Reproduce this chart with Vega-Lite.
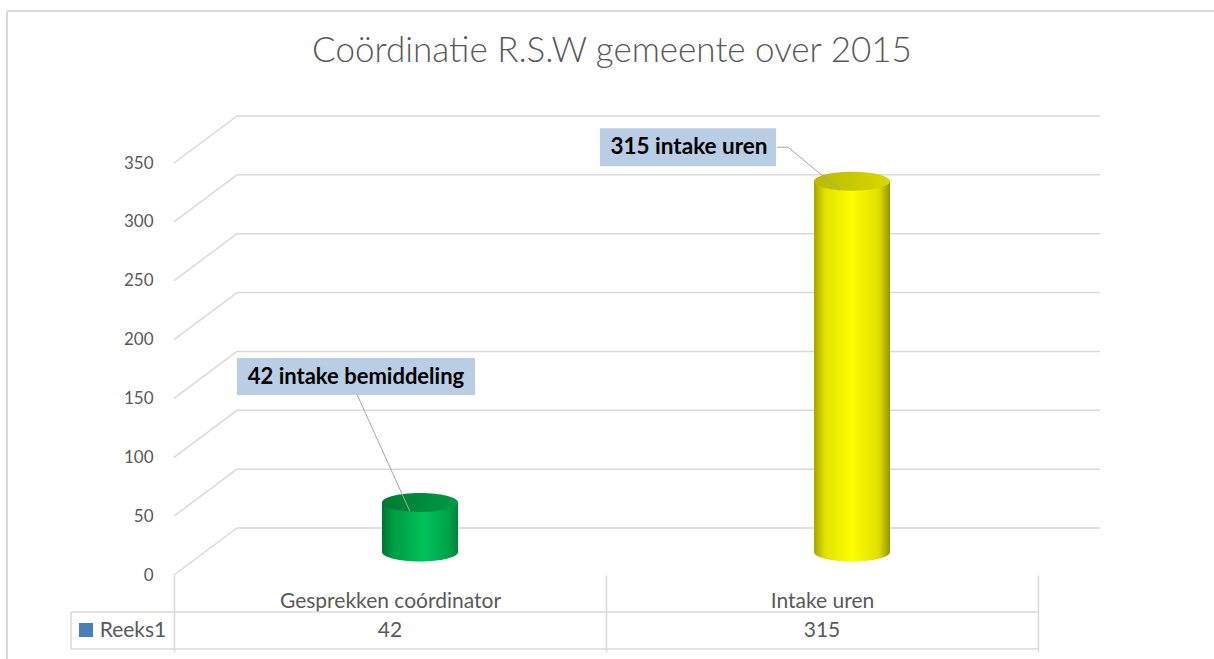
{
  "$schema": "https://vega.github.io/schema/vega-lite/v6.json",
  "autosize": {"type": "none"},
  "width": 864,
  "height": 412,
  "padding": {"left": 174, "top": 116, "right": 176, "bottom": 131},
  "background": "white",
  "title": {
    "text": "Coördinatie R.S.W gemeente over 2015",
    "font": "Lato",
    "fontSize": 35,
    "fontWeight": 300,
    "color": "#595959",
    "anchor": "middle",
    "frame": "group",
    "dx": 6,
    "baseline": "alphabetic",
    "offset": -87
  },
  "config": {"view": {"stroke": null}, "font": "Lato"},
  "datasets": {
    "ticks": [{"v": 0}, {"v": 50}, {"v": 100}, {"v": 150}, {"v": 200}, {"v": 250}, {"v": 300}, {"v": 350}],
    "main": [
      {"cat": "Gesprekken coórdinator", "value": 42, "label": "42 intake bemiddeling", "series": "Reeks1"},
      {"cat": "Intake uren", "value": 315, "label": "315 intake uren", "series": "Reeks1"}
    ]
  },
  "data": {"name": "main"},
  "layer": [
    {
      "data": {"values": [{}]},
      "mark": {"type": "rule", "color": "#d9d9d9", "strokeWidth": 2, "xOffset": -167, "x2Offset": 176, "yOffset": -105},
      "encoding": {"x": {"value": 0}, "x2": {"value": "width"}, "y": {"value": 0}}
    },
    {
      "data": {"values": [{}]},
      "mark": {"type": "rule", "color": "#d9d9d9", "strokeWidth": 2, "xOffset": -167, "yOffset": -105, "y2Offset": 131},
      "encoding": {"x": {"value": 0}, "y": {"value": 0}, "y2": {"value": "height"}}
    },
    {
      "data": {"name": "ticks"},
      "mark": {"type": "rule", "color": "#d9d9d9", "strokeWidth": 1.5, "xOffset": 63, "x2Offset": 62},
      "encoding": {
        "x": {"value": 0},
        "x2": {"value": "width"},
        "y": {"field": "v", "type": "quantitative", "scale": {"domain": [0, 350], "nice": false}}
      }
    },
    {
      "data": {"name": "ticks"},
      "mark": {"type": "rule", "color": "#d9d9d9", "strokeWidth": 1.5, "yOffset": 47, "x2Offset": 63},
      "encoding": {
        "x": {"value": 0},
        "x2": {"value": 0},
        "y": {"field": "v", "type": "quantitative"},
        "y2": {"field": "v"}
      }
    },
    {
      "data": {"values": [{}]},
      "mark": {"type": "rule", "color": "#d9d9d9", "strokeWidth": 1.5, "xOffset": -103, "yOffset": 84},
      "encoding": {"x": {"value": 0}, "x2": {"value": "width"}, "y": {"datum": 0, "type": "quantitative"}}
    },
    {
      "data": {"values": [{}]},
      "mark": {"type": "rule", "color": "#d9d9d9", "strokeWidth": 1.5, "xOffset": -103, "yOffset": 121},
      "encoding": {"x": {"value": 0}, "x2": {"value": "width"}, "y": {"datum": 0, "type": "quantitative"}}
    },
    {
      "data": {"values": [{}]},
      "mark": {"type": "rule", "color": "#d9d9d9", "strokeWidth": 1.5, "xOffset": -103, "yOffset": 84, "y2Offset": 121},
      "encoding": {"x": {"value": 0}, "y": {"datum": 0, "type": "quantitative"}, "y2": {"datum": 0}}
    },
    {
      "mark": {
        "type": "point",
        "shape": "M -1 0 C -1 -0.138 -0.552 -0.25 0 -0.25 C 0.552 -0.25 1 -0.138 1 0 C 1 0.138 0.552 0.25 0 0.25 C -0.552 0.25 -1 0.138 -1 0 Z",
        "size": 5776,
        "filled": true,
        "opacity": 1,
        "strokeWidth": 0,
        "xOffset": 30,
        "yOffset": 24
      },
      "encoding": {
        "x": {"field": "cat", "type": "nominal", "sort": null},
        "y": {"datum": 0, "type": "quantitative"},
        "fill": {
          "condition": {
            "test": "datum.cat === 'Intake uren'",
            "value": {"gradient": "linear", "x1": 0, "x2": 1, "y1": 0, "y2": 0, "stops": [
              {"offset": 0, "color": "#a5a500"}, {"offset": 0.15, "color": "#e2e200"}, {"offset": 0.5, "color": "#ffff00"}, {"offset": 0.85, "color": "#e0e000"}, {"offset": 1, "color": "#959500"}]}
          },
          "value": {"gradient": "linear", "x1": 0, "x2": 1, "y1": 0, "y2": 0, "stops": [
            {"offset": 0, "color": "#007530"}, {"offset": 0.15, "color": "#009e45"}, {"offset": 0.55, "color": "#00c25b"}, {"offset": 0.85, "color": "#00a64b"}, {"offset": 1, "color": "#00843a"}]}
        }
      }
    },
    {
      "mark": {"type": "bar", "width": 76, "xOffset": 30, "yOffset": 24, "y2Offset": 24, "strokeWidth": 0},
      "encoding": {
        "x": {
          "field": "cat", "type": "nominal", "sort": null,
          "scale": {"paddingInner": 0, "paddingOuter": 0},
          "axis": {
            "title": null, "orient": "bottom", "offset": 47, "domain": false, "grid": false,
            "ticks": true, "tickBand": "extent", "tickSize": 77, "tickColor": "#d9d9d9", "tickWidth": 1.5,
            "labelPadding": -51, "labelAngle": 0, "labelAlign": "center", "labelLimit": 420, "labelFont": "Lato", "labelFontSize": 21, "labelColor": "#595959"
          }
        },
        "y": {
          "field": "value", "type": "quantitative",
          "scale": {"domain": [0, 350], "nice": false},
          "axis": {
            "title": null, "domain": false, "ticks": false, "grid": false,
            "values": [0, 50, 100, 150, 200, 250, 300, 350],
            "labelOffset": 47, "labelPadding": 21, "labelFont": "Lato", "labelFontSize": 17, "labelColor": "#595959"
          }
        },
        "y2": {"datum": 0},
        "fill": {
          "condition": {
            "test": "datum.cat === 'Intake uren'",
            "value": {"gradient": "linear", "x1": 0, "x2": 1, "y1": 0, "y2": 0, "stops": [
              {"offset": 0, "color": "#a5a500"}, {"offset": 0.15, "color": "#e2e200"}, {"offset": 0.5, "color": "#ffff00"}, {"offset": 0.85, "color": "#e0e000"}, {"offset": 1, "color": "#959500"}]}
          },
          "value": {"gradient": "linear", "x1": 0, "x2": 1, "y1": 0, "y2": 0, "stops": [
            {"offset": 0, "color": "#007530"}, {"offset": 0.15, "color": "#009e45"}, {"offset": 0.55, "color": "#00c25b"}, {"offset": 0.85, "color": "#00a64b"}, {"offset": 1, "color": "#00843a"}]}
        }
      }
    },
    {
      "mark": {
        "type": "point",
        "shape": "M -1 0 C -1 -0.138 -0.552 -0.25 0 -0.25 C 0.552 -0.25 1 -0.138 1 0 C 1 0.138 0.552 0.25 0 0.25 C -0.552 0.25 -1 0.138 -1 0 Z",
        "size": 5776,
        "filled": true,
        "opacity": 1,
        "strokeWidth": 0,
        "xOffset": 30,
        "yOffset": 24
      },
      "encoding": {
        "x": {"field": "cat", "type": "nominal", "sort": null},
        "y": {"field": "value", "type": "quantitative"},
        "fill": {
          "condition": {
            "test": "datum.cat === 'Intake uren'",
            "value": {"gradient": "linear", "x1": 0, "x2": 1, "y1": 0, "y2": 0, "stops": [
              {"offset": 0, "color": "#b8b800"}, {"offset": 0.6, "color": "#cccc00"}, {"offset": 1, "color": "#d8d800"}]}
          },
          "value": {"gradient": "linear", "x1": 0, "x2": 1, "y1": 0, "y2": 0, "stops": [
            {"offset": 0, "color": "#007a33"}, {"offset": 0.6, "color": "#008d3d"}, {"offset": 1, "color": "#009a44"}]}
        }
      }
    },
    {
      "transform": [{"filter": "datum.cat === 'Gesprekken coórdinator'"}],
      "mark": {"type": "rule", "color": "#a6a6a6", "strokeWidth": 1, "xOffset": -33, "yOffset": -84, "x2Offset": 20, "y2Offset": 33},
      "encoding": {
        "x": {"field": "cat", "type": "nominal", "sort": null},
        "x2": {"field": "cat"},
        "y": {"field": "value", "type": "quantitative"},
        "y2": {"field": "value"}
      }
    },
    {
      "transform": [{"filter": "datum.cat === 'Intake uren'"}],
      "mark": {"type": "rule", "color": "#a6a6a6", "strokeWidth": 1, "xOffset": -45, "yOffset": -10, "x2Offset": -34, "y2Offset": -10},
      "encoding": {
        "x": {"field": "cat", "type": "nominal", "sort": null},
        "x2": {"field": "cat"},
        "y": {"field": "value", "type": "quantitative"},
        "y2": {"field": "value"}
      }
    },
    {
      "transform": [{"filter": "datum.cat === 'Intake uren'"}],
      "mark": {"type": "rule", "color": "#a6a6a6", "strokeWidth": 1, "xOffset": -34, "yOffset": -10, "x2Offset": 18, "y2Offset": 33},
      "encoding": {
        "x": {"field": "cat", "type": "nominal", "sort": null},
        "x2": {"field": "cat"},
        "y": {"field": "value", "type": "quantitative"},
        "y2": {"field": "value"}
      }
    },
    {
      "transform": [{"filter": "datum.cat === 'Gesprekken coórdinator'"}],
      "mark": {"type": "point", "shape": "M -1 -0.1555 L 1 -0.1555 L 1 0.1555 L -1 0.1555 Z", "size": 56644, "filled": true, "opacity": 1, "color": "#b9cde5", "strokeWidth": 0, "xOffset": -34, "yOffset": -102},
      "encoding": {
        "x": {"field": "cat", "type": "nominal", "sort": null},
        "y": {"field": "value", "type": "quantitative"}
      }
    },
    {
      "transform": [{"filter": "datum.cat === 'Gesprekken coórdinator'"}],
      "mark": {"type": "text", "font": "Lato", "fontSize": 22, "fontWeight": "bold", "color": "#000000", "align": "center", "baseline": "middle", "xOffset": -34, "yOffset": -102},
      "encoding": {
        "x": {"field": "cat", "type": "nominal", "sort": null},
        "y": {"field": "value", "type": "quantitative"},
        "text": {"field": "label"}
      }
    },
    {
      "transform": [{"filter": "datum.cat === 'Intake uren'"}],
      "mark": {"type": "point", "shape": "M -1 -0.216 L 1 -0.216 L 1 0.216 L -1 0.216 Z", "size": 30976, "filled": true, "opacity": 1, "color": "#b9cde5", "strokeWidth": 0, "xOffset": -134, "yOffset": -10},
      "encoding": {
        "x": {"field": "cat", "type": "nominal", "sort": null},
        "y": {"field": "value", "type": "quantitative"}
      }
    },
    {
      "transform": [{"filter": "datum.cat === 'Intake uren'"}],
      "mark": {"type": "text", "font": "Lato", "fontSize": 22.5, "fontWeight": "bold", "color": "#000000", "align": "center", "baseline": "middle", "xOffset": -133, "yOffset": -10},
      "encoding": {
        "x": {"field": "cat", "type": "nominal", "sort": null},
        "y": {"field": "value", "type": "quantitative"},
        "text": {"field": "label"}
      }
    },
    {
      "mark": {"type": "text", "font": "Lato", "fontSize": 21, "color": "#595959", "align": "center", "baseline": "middle", "yOffset": 103},
      "encoding": {
        "x": {"field": "cat", "type": "nominal", "sort": null},
        "y": {"datum": 0, "type": "quantitative"},
        "text": {"field": "value", "type": "quantitative"}
      }
    },
    {
      "transform": [{"filter": "datum.cat === 'Intake uren'"}],
      "mark": {"type": "text", "font": "Lato", "fontSize": 21, "color": "#595959", "align": "center", "baseline": "middle", "xOffset": -41, "yOffset": 103},
      "encoding": {
        "x": {"value": 0},
        "y": {"datum": 0, "type": "quantitative"},
        "text": {"field": "series"}
      }
    },
    {
      "transform": [{"filter": "datum.cat === 'Intake uren'"}],
      "mark": {"type": "point", "shape": "square", "size": 196, "filled": true, "opacity": 1, "color": "#4a7ebb", "xOffset": -88, "yOffset": 102},
      "encoding": {
        "x": {"value": 0},
        "y": {"datum": 0, "type": "quantitative"}
      }
    }
  ]
}
